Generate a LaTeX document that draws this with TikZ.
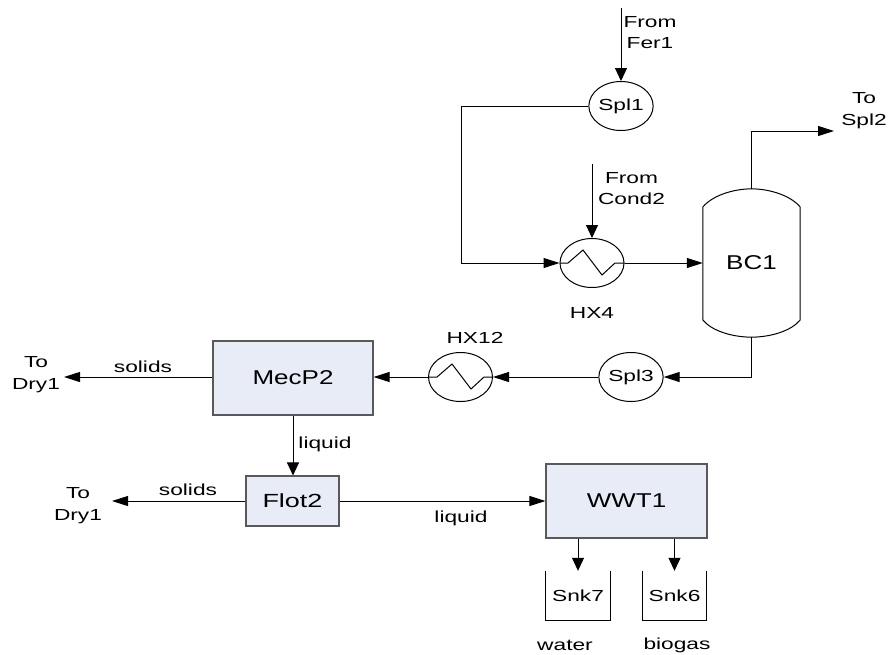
\documentclass[tikz,border=0pt]{standalone}
\usepackage{fontspec}
\setmainfont[FakeStretch=1.3]{Liberation Sans}
\newfontfamily\widefont[FakeStretch=1.42]{Liberation Sans}
\usetikzlibrary{arrows.meta,shapes.geometric}
\definecolor{boxblue}{HTML}{E7ECF7}
\tikzset{
  x=1pt,y=-1pt,
  plain/.style={draw=black,line width=1pt},
  hflow/.style={plain,-{Triangle[length=16pt,width=10pt]}},
  vflow/.style={plain,-{Triangle[length=13pt,width=12pt]}},
  unit/.style={draw=black!65,fill=boxblue,line width=1.1pt,inner sep=0pt,font=\fontsize{20}{22}\selectfont},
  vessel/.style={ellipse,draw=black,line width=1pt,minimum width=64pt,minimum height=49pt,inner sep=0pt,font=\widefont\fontsize{16}{18}\selectfont},
  lab/.style={inner sep=0pt,align=center,yshift=-1.5pt,font=\widefont\fontsize{16}{21.5}\selectfont},
  sinkbox/.style={inner sep=0pt,minimum width=64pt,minimum height=49pt,font=\widefont\fontsize{16}{18}\selectfont},
  ghost/.style={inner sep=0pt,minimum width=97pt,minimum height=148pt,font=\fontsize{20}{22}\selectfont},
}
\begin{document}
\begin{tikzpicture}
\useasboundingbox (0,0) rectangle (888,654);
% units
\node[unit,minimum width=160pt,minimum height=74pt] (mecp) at (293,378) {MecP2};
\node[unit,minimum width=93pt,minimum height=50pt,font=\widefont\fontsize{19}{21}\selectfont] (flot) at (292.5,501) {Flot2};
\node[unit,minimum width=161pt,minimum height=74pt] (wwt) at (626.5,501) {WWT1};
% vessels
\node[vessel] (spl1) at (621,106) {Spl1};
\node[vessel] (hx4) at (592,263) {};
\node[vessel] (hx12) at (460.5,377) {};
\node[vessel] (spl3) at (631,377) {Spl3};
% column
\node[ghost] (bc) at (751.5,263) {BC1};
\draw[plain] (bc.north west |- 0,207) .. controls (712,196) and (732,189) .. (bc.north)
  .. controls (771,189) and (791,196) .. (bc.north east |- 0,207)
  -- (bc.south east |- 0,320) .. controls (791,331) and (771,337) .. (bc.south)
  .. controls (732,337) and (712,331) .. (bc.south west |- 0,320) -- cycle;
% zigzags
\draw[plain] (hx4.west) -- (568,263) -- (583,250) -- (602,275) -- (615,263) -- (hx4.east);
\draw[plain] (hx12.west) -- (437,377) -- (452,364) -- (471,389) -- (484,377) -- (hx12.east);
% sinks
\node[sinkbox] (snk7) at (578,595.5) {Snk7};
\node[sinkbox] (snk6) at (674.5,595.5) {Snk6};
\draw[plain] (snk7.north west) -- (snk7.south west) -- (snk7.south east) -- (snk7.north east);
\draw[plain] (snk6.north west) -- (snk6.south west) -- (snk6.south east) -- (snk6.north east);
% free ends
\coordinate (fer) at (621,8);
\coordinate (cond) at (592,164);
\coordinate (tospl2) at (834,131);
\coordinate (dryA) at (64,377);
\coordinate (dryB) at (112,501);
% connectors
\draw[vflow] (fer) -- (spl1.north);
\draw[hflow] (spl1.west) -- (461,106) -- (461,263) -- (hx4.west);
\draw[vflow] (cond) -- (hx4.north);
\draw[hflow] (hx4.east) -- (bc.west);
\draw[hflow] (bc.north) -- (751.5,131) -- (tospl2);
\draw[hflow] (bc.south) -- (751.5,377) -- (spl3.east);
\draw[hflow] (spl3.west) -- (hx12.east);
\draw[hflow] (hx12.west) -- (mecp.east |- hx12.west);
\draw[hflow] (mecp.west |- dryA) -- (dryA);
\draw[vflow] (mecp.south) -- (flot.north -| mecp.south);
\draw[hflow] (flot.west) -- (dryB);
\draw[hflow] (flot.east) -- (wwt.west);
\draw[vflow] (wwt.south -| snk7.north) -- (snk7.north);
\draw[vflow] (wwt.south -| snk6.north) -- (snk6.north);
% labels
\node[lab] (l1) at (650,31) {From\\Fer1};
\node[lab] (l2) at (631.5,187) {From\\Cond2};
\node[lab] (l3) at (592,311) {HX4};
\node[lab] (l4) at (475,336) {HX12};
\node[lab] (l5) at (864,109) {To\\Spl2};
\node[lab] (l6) at (36,373) {To\\Dry1};
\node[lab] (l7) at (78,504) {To\\Dry1};
\node[lab] (l8) at (143,365) {solids};
\node[lab] (l9) at (188,488) {solids};
\node[lab] (l10) at (325,443) {liquid};
\node[lab] (l11) at (461,517) {liquid};
\node[lab] (l12) at (565,644) {water};
\node[lab] (l13) at (677,644) {biogas};
\end{tikzpicture}
\end{document}
